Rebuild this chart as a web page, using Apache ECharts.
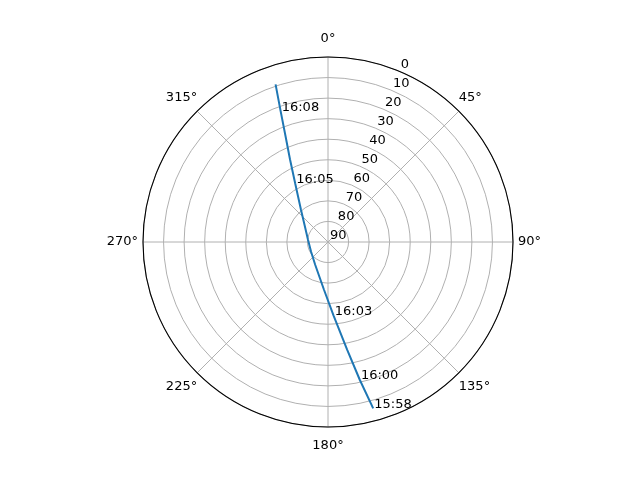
<!DOCTYPE html>
<html>
<head>
<meta charset="utf-8">
<script src="https://cdn.jsdelivr.net/npm/echarts@6/dist/echarts.min.js"></script>
<style>
html, body { margin: 0; padding: 0; background: #fff; }
#main { width: 640px; height: 480px; }
</style>
</head>
<body>
<div id="main"></div>
<script>
// pass track: elevation (deg, 90 = centre) and azimuth (deg, clockwise from north)
const elevation = [6.15, 21.1, 36.7, 54.0, 66.7, 77.3, 80.5, 80.2, 75.8, 69.5, 57.4, 45.8, 33.7, 22.3, 9.2];
const azimuth = [164.8, 167.0, 169.9, 175.6, 184.8, 209.4, 240.0, 276.6, 306.4, 320.1, 330.7, 335.3, 338.3, 340.1, 341.6];
const stamps = ['15:58', '16:00', '', '16:03', '', '', '', '', '', '', '16:05', '', '', '16:08', ''];

const angleTicks = [0, 45, 90, 135, 180, 225, 270, 315];

const chartDom = document.getElementById('main');
const myChart = echarts.init(chartDom);

const center = [328, 242];
const radius = 185;
const font = 'DejaVu Sans';

let trackData = [];
for (let i = 0; i < elevation.length; i++) {
	trackData.push({
		value: [elevation[i], azimuth[i]],
		label: {
			show: stamps[i] !== '',
			formatter: stamps[i]
		}
	});
}

// matplotlib centres its theta labels, echarts aligns their edges: pad by direction
let angleLabel = function(v) {
	if (angleTicks.indexOf(v) < 0) return '';
	let key = 'd';
	if (v % 180 === 0) key = 'v';
	else if (v % 90 === 0) key = 'h';
	return '{' + key + '|' + v + '°}';
};

let option = {
	animation: false,
	polar: [
		{ center: center, radius: radius },
		// second polar only carries the radius labels, rotated to 22.5 deg
		{ center: [330, 236], radius: radius }
	],
	angleAxis: [
		{
			polarIndex: 0,
			type: 'value',
			min: 0,
			max: 360,
			interval: 45,
			startAngle: 90,
			clockwise: true,
			axisLine: { lineStyle: { color: '#000', width: 1.1 } },
			axisTick: { show: false },
			axisLabel: {
				margin: 0,
				color: '#000',
				fontFamily: font,
				fontSize: 13,
				formatter: angleLabel,
				rich: {
					v: { padding: [12, 0], fontFamily: font, fontSize: 13, color: '#000' },
					h: { padding: [0, 5], fontFamily: font, fontSize: 13, color: '#000' },
					d: { padding: [7, 0], fontFamily: font, fontSize: 13, color: '#000' }
				}
			},
			splitLine: { show: true, lineStyle: { color: '#b0b0b0', width: 1 } }
		},
		{
			polarIndex: 1,
			type: 'value',
			min: 0,
			max: 360,
			startAngle: 67.5,
			show: false
		}
	],
	radiusAxis: [
		{
			polarIndex: 0,
			type: 'value',
			min: 0,
			max: 90,
			interval: 10,
			inverse: true,
			axisLine: { show: false },
			axisTick: { show: false },
			axisLabel: { show: false },
			splitLine: { show: true, lineStyle: { color: '#b0b0b0', width: 1 } }
		},
		{
			polarIndex: 1,
			type: 'value',
			min: 0,
			max: 90,
			interval: 10,
			inverse: true,
			axisLine: { show: false },
			axisTick: { show: false },
			splitLine: { show: false },
			axisLabel: {
				color: '#000',
				fontFamily: font,
				fontSize: 13,
				margin: 0,
				align: 'left',
				verticalAlign: 'middle'
			}
		}
	],
	series: [
		{
			type: 'line',
			coordinateSystem: 'polar',
			polarIndex: 0,
			data: trackData,
			symbol: 'circle',
			symbolSize: 0.1,
			showSymbol: true,
			lineStyle: { color: '#1f77b4', width: 2 },
			itemStyle: { color: '#1f77b4' },
			label: {
				position: 'right',
				distance: 1,
				offset: [0, -4],
				color: '#000',
				fontFamily: font,
				fontSize: 13
			}
		}
	]
};

myChart.setOption(option);
</script>
</body>
</html>
